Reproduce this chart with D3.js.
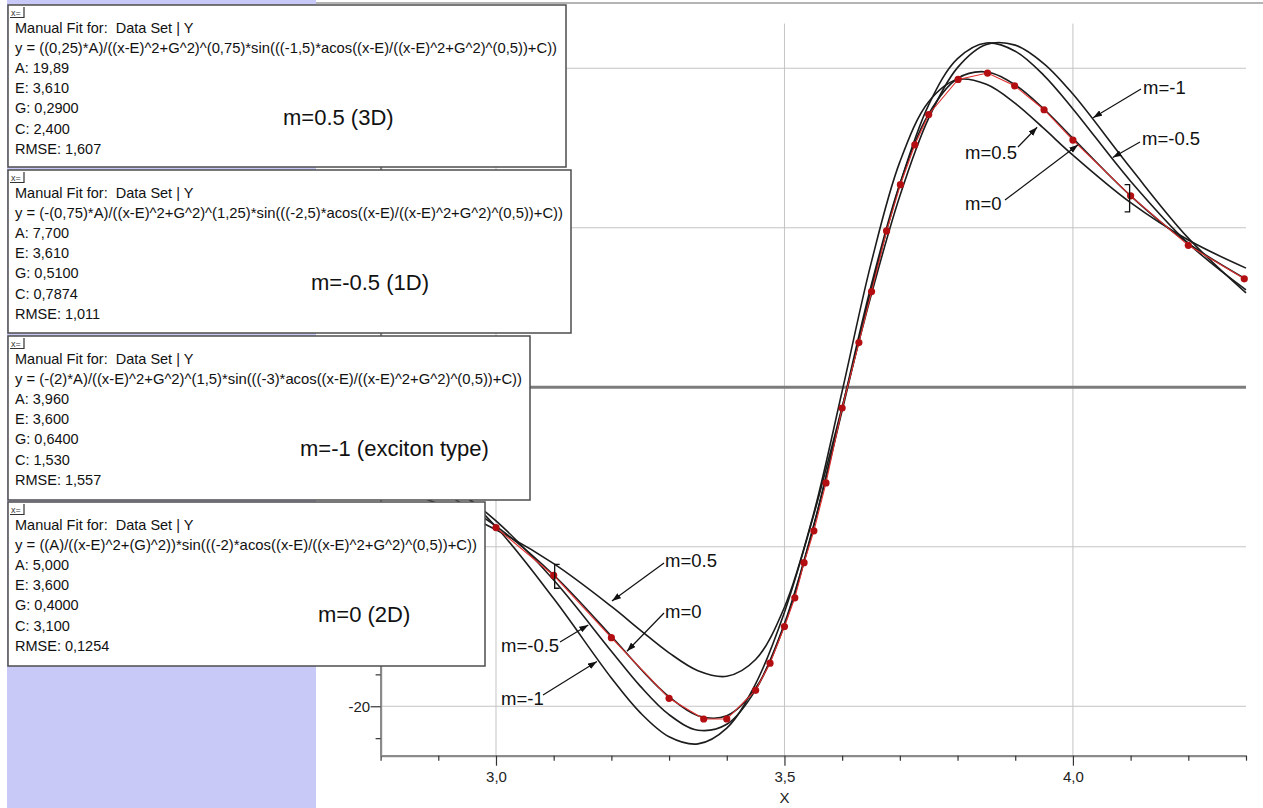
<!DOCTYPE html>
<html>
<head>
<meta charset="utf-8">
<script src="https://cdn.jsdelivr.net/npm/d3@7"></script>
<style>
  body { margin: 0; background: #fff; }
  svg { display: block; font-family: Arial, "Liberation Sans", sans-serif; }
</style>
</head>
<body>
<script>
// ---- values ----
const xGrid = [2.8, 2.9, 3.0, 3.1, 3.2, 3.25, 3.3, 3.35, 3.4, 3.45, 3.5, 3.55, 3.6,
  3.65, 3.7, 3.75, 3.8, 3.85, 3.9, 3.95, 4.0, 4.1, 4.2, 4.3];

const curveM05 = [-6.07, -7.31, -8.93, -11.06, -13.74, -15.22, -16.65, -17.77, -18.12, -17.07,
  -13.79, -8.00, -0.25, 7.75, 14.13, 17.90, 19.29, 18.99, 17.80, 16.21, 14.55, 11.57, 9.23, 7.47];
const curveM0 = [-4.84, -6.45, -8.71, -11.77, -15.61, -17.63, -19.41, -20.59, -20.60, -18.86,
  -14.91, -8.81, -1.30, 6.33, 12.75, 17.14, 19.36, 19.77, 18.95, 17.43, 15.61, 12.00, 9.02, 6.78];
const curveMm05 = [-3.75, -5.65, -8.38, -12.09, -16.55, -18.74, -20.53, -21.50, -21.13, -18.97,
  -14.82, -8.75, -1.46, 6.06, 12.71, 17.71, 20.60, 21.58, 21.07, 19.54, 17.45, 12.92, 9.02, 6.10];
const curveMm1 = [-2.95, -5.32, -8.75, -13.25, -18.23, -20.40, -21.91, -22.36, -21.37, -18.59,
  -14.10, -8.10, -1.23, 5.74, 11.99, 16.87, 20.04, 21.49, 21.45, 20.28, 18.38, 13.74, 9.35, 5.92];

// measured data set (red)
const dataX = [3.0, 3.1, 3.2, 3.3, 3.36, 3.4, 3.45, 3.475, 3.5, 3.518, 3.534, 3.551, 3.572, 3.6,
  3.629, 3.651, 3.677, 3.701, 3.726, 3.75, 3.801, 3.852, 3.899, 3.95, 4.0, 4.1, 4.2, 4.297];
const dataY = [-8.8, -11.8, -15.7, -19.5, -20.8, -20.8, -19.0, -17.3, -15.0, -13.2, -11.0, -9.0,
  -6.0, -1.3, 2.8, 6.0, 9.8, 12.7, 15.2, 17.1, 19.3, 19.7, 18.9, 17.4, 15.5, 12.0, 8.9, 6.8];

// error bars: x, low, high
const errBars = [[3.1, -12.6, -11.1], [4.1, 11.0, 12.7]];

const xMajorTicks = [3.0, 3.5, 4.0];
const xTickLabels = ['3,0', '3,5', '4,0'];
const yMajorTicks = [-20, -10, 0, 10, 20];
// only the -20 label is left uncovered by the fit panels
const yLabelTicks = [-20];
const yTickLabels = ['-20'];

// fit result panels
const fitTitles = ['m=0.5 (3D)', 'm=-0.5 (1D)', 'm=-1 (exciton type)', 'm=0 (2D)'];
const fitFormulas = [
  'y = ((0,25)*A)/((x-E)^2+G^2)^(0,75)*sin(((-1,5)*acos((x-E)/((x-E)^2+G^2)^(0,5))+C))',
  'y = (-(0,75)*A)/((x-E)^2+G^2)^(1,25)*sin(((-2,5)*acos((x-E)/((x-E)^2+G^2)^(0,5))+C))',
  'y = (-(2)*A)/((x-E)^2+G^2)^(1,5)*sin(((-3)*acos((x-E)/((x-E)^2+G^2)^(0,5))+C))',
  'y = ((A)/((x-E)^2+(G)^2))*sin(((-2)*acos((x-E)/((x-E)^2+G^2)^(0,5))+C))'
];
const fitParams = [
  ['A: 19,89', 'E: 3,610', 'G: 0,2900', 'C: 2,400', 'RMSE: 1,607'],
  ['A: 7,700', 'E: 3,610', 'G: 0,5100', 'C: 0,7874', 'RMSE: 1,011'],
  ['A: 3,960', 'E: 3,600', 'G: 0,6400', 'C: 1,530', 'RMSE: 1,557'],
  ['A: 5,000', 'E: 3,600', 'G: 0,4000', 'C: 3,100', 'RMSE: 0,1254']
];

// arrow labels and the curve point each one points at
const annoText = ['m=-1', 'm=-0.5', 'm=0.5', 'm=0', 'm=0.5', 'm=0', 'm=-0.5', 'm=-1'];
const annoTarget = [[4.035, 16.9], [4.069, 14.4], [3.938, 16.3], [4.009, 15.2],
  [3.201, -13.4], [3.227, -16.55], [3.16, -14.9], [3.175, -17.2]];

// ---- layout ----
const W = 1263, H = 808;
// panel frames: x, y, w, h, title x, formula width
const boxFrames = [
  [8, 5, 558, 162, 283, 542],
  [8, 170, 563, 163, 311, 548],
  [8, 336, 522, 164, 300, 507],
  [8, 502, 477, 164, 318, 462]
];
// label: text x, baseline, line start x, line start y
const annoLayout = [
  [1143, 94, 1141, 89], [1142, 145, 1140, 142], [965, 159, 1018, 147], [965, 210, 1005, 200],
  [665, 567, 664, 563], [665, 618, 664, 613], [501, 652, 560, 642], [501, 705, 543, 695]
];

const svg = d3.select('body').append('svg')
  .attr('width', W).attr('height', H);

svg.append('defs').append('marker')
  .attr('id', 'head')
  .attr('viewBox', '0 0 10 7')
  .attr('refX', 10).attr('refY', 3.5)
  .attr('markerWidth', 9).attr('markerHeight', 6.5)
  .attr('markerUnits', 'userSpaceOnUse')
  .attr('orient', 'auto')
  .append('path').attr('d', 'M0,0 L10,3.5 L0,7 Z').attr('fill', '#111');

// left lavender pane and top frame
svg.append('rect').attr('x', 7).attr('y', 0).attr('width', 309).attr('height', H)
  .attr('fill', '#c9c9f7');
svg.append('line').attr('x1', 316).attr('x2', W).attr('y1', 3).attr('y2', 3)
  .attr('stroke', '#b4b4b4').attr('stroke-width', 2);

const x = d3.scaleLinear().domain([2.8, 4.3]).range([380.6, 1246]);
const y = d3.scaleLinear().domain([-23.1, 22.8]).range([755.7, 23.6]);

const plot = svg.append('g');

// grid
plot.selectAll('.vgrid').data(xMajorTicks).enter().append('line')
  .attr('x1', d => x(d)).attr('x2', d => x(d))
  .attr('y1', y(22.8)).attr('y2', y(-23.1))
  .attr('stroke', '#c4c4c4').attr('stroke-width', 1);
plot.selectAll('.hgrid').data(yMajorTicks).enter().append('line')
  .attr('x1', x(2.8)).attr('x2', x(4.3))
  .attr('y1', d => y(d)).attr('y2', d => y(d))
  .attr('stroke', d => d === 0 ? '#7c7c7c' : '#c4c4c4')
  .attr('stroke-width', d => d === 0 ? 3 : 1);

// axes
const xMinor = d3.range(28, 44).map(v => v / 10);
const xAxis = d3.axisBottom(x).tickValues(xMinor).tickSizeOuter(0)
  .tickFormat(d => {
    const i = xMajorTicks.findIndex(t => Math.abs(t - d) < 1e-6);
    return i >= 0 ? xTickLabels[i] : '';
  });
const gx = plot.append('g').attr('transform', `translate(0,${y(-23.1)})`).call(xAxis);
gx.selectAll('.tick line')
  .attr('y2', d => xMajorTicks.some(t => Math.abs(t - d) < 1e-6) ? 10 : 5);

const yMinor = d3.range(-22, 23, 2);
const yAxis = d3.axisLeft(y).tickValues(yMinor).tickSizeOuter(0)
  .tickFormat(d => {
    const i = yLabelTicks.indexOf(d);
    return i >= 0 ? yTickLabels[i] : '';
  });
const gy = plot.append('g').attr('transform', `translate(${x(2.8)},0)`).call(yAxis);
gy.selectAll('.tick line').attr('x2', d => d % 10 === 0 ? -10 : -5);
gy.selectAll('.tick text').filter(d => yLabelTicks.indexOf(d) < 0).remove();
gx.selectAll('.tick text').filter(d => !xMajorTicks.some(t => Math.abs(t - d) < 1e-6)).remove();

[gx, gy].forEach(g => {
  g.select('.domain').attr('stroke', '#8a8a8a').attr('stroke-width', 2.2);
  g.selectAll('.tick line').attr('stroke', '#333').attr('stroke-width', 1.2);
  g.selectAll('.tick text').attr('font-size', 15).attr('fill', '#222')
    .attr('font-family', 'Arial, "Liberation Sans", sans-serif');
});
gx.selectAll('.tick text').attr('dy', '1.15em');
gy.selectAll('.tick text').attr('dx', '-0.1em');

plot.append('text').attr('x', x(3.5)).attr('y', 803).attr('text-anchor', 'middle')
  .attr('font-size', 15).attr('fill', '#222').text('X');

// model curves
const curves = [curveM05, curveM0, curveMm05, curveMm1];
const line = d3.line()
  .x((d, i) => x(xGrid[i]))
  .y(d => y(d))
  .curve(d3.curveCatmullRom.alpha(0.5));
plot.selectAll('.model').data(curves).enter().append('path')
  .attr('d', d => line(d))
  .attr('fill', 'none').attr('stroke', '#1c1c1c').attr('stroke-width', 1.6);

// data set
const pts = dataX.map((v, i) => [v, dataY[i]]);
plot.append('path')
  .attr('d', d3.line().x(d => x(d[0])).y(d => y(d[1]))(pts))
  .attr('fill', 'none').attr('stroke', '#e23030').attr('stroke-width', 1.1);
plot.selectAll('.dot').data(pts).enter().append('circle')
  .attr('cx', d => x(d[0])).attr('cy', d => y(d[1])).attr('r', 3.6)
  .attr('fill', '#b30f12');

// error bars
errBars.forEach(([ex, lo, hi]) => {
  const side = ex < 3.5 ? 1 : -1;
  const px = x(ex) + side;
  const p = `M${px + side * 5},${y(hi)} H${px} V${y(lo)} H${px + side * 5}`;
  plot.append('path').attr('d', p).attr('fill', 'none')
    .attr('stroke', '#111').attr('stroke-width', 1.3);
});

// arrow annotations
annoText.forEach((t, i) => {
  const [lx, ly, sx, sy] = annoLayout[i];
  const [tx, ty] = annoTarget[i];
  plot.append('line')
    .attr('x1', sx).attr('y1', sy).attr('x2', x(tx)).attr('y2', y(ty))
    .attr('stroke', '#111').attr('stroke-width', 1.2)
    .attr('marker-end', 'url(#head)');
  plot.append('text').attr('x', lx).attr('y', ly)
    .attr('font-size', 18.5).attr('fill', '#111').text(t);
});

// fit panels on top
boxFrames.forEach(([bx, by, bw, bh, titleX, fw], i) => {
  const g = svg.append('g');
  g.append('rect').attr('x', bx).attr('y', by).attr('width', bw).attr('height', bh)
    .attr('fill', '#fff').attr('stroke', '#4d4d4d').attr('stroke-width', 1.5);
  // tiny window icon
  g.append('text').attr('x', bx + 3).attr('y', by + 11)
    .attr('font-size', 9).attr('fill', '#333').text('x=');
  g.append('path')
    .attr('d', `M${bx + 2},${by + 12.5} H${bx + 16} V${by + 2}`)
    .attr('fill', 'none').attr('stroke', '#333').attr('stroke-width', 1.2);

  const lines = ['Manual Fit for:  Data Set | Y', fitFormulas[i]].concat(fitParams[i]);
  g.selectAll('.ln').data(lines).enter().append('text')
    .attr('x', bx + 7)
    .attr('y', (d, k) => by + 28 + k * 20.1)
    .attr('font-size', 14.5).attr('fill', '#111')
    .attr('textLength', (d, k) => k === 1 ? fw : null)
    .attr('lengthAdjust', (d, k) => k === 1 ? 'spacingAndGlyphs' : null)
    .style('white-space', 'pre')
    .text(d => d);

  g.append('text').attr('x', titleX).attr('y', by + 120)
    .attr('font-size', 22).attr('fill', '#111').text(fitTitles[i]);
});
</script>
</body>
</html>
